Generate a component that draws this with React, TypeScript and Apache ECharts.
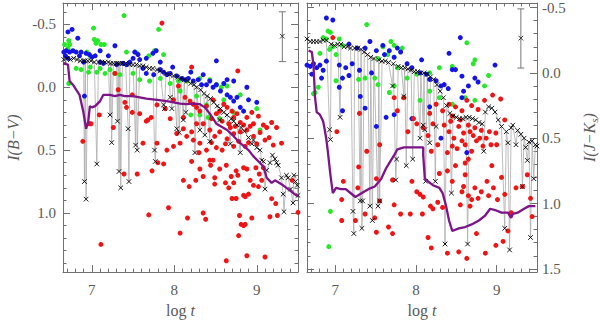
import React, { useEffect, useRef } from "react";
import * as echarts from "echarts";

const xTicks = [7, 8, 9];
const yTicks = [-0.5, 0.0, 0.5, 1.0, 1.5];

const leftBlue = [[6.71,-0.44],[6.76,-0.46],[6.83,-0.39],[6.66,-0.28],[6.69,-0.29],[6.73,-0.28],[6.77,-0.29],[6.81,-0.28],[6.87,-0.28],[6.93,-0.27],[6.97,-0.26],[6.68,-0.25],[6.71,-0.23],[6.85,-0.25],[6.91,0.07],[6.9,-0.2],[7.04,-0.25],[7.1,-0.2],[7.14,-0.19],[7.2,-0.25],[7.28,-0.33],[7.3,-0.18],[7.38,-0.19],[7.42,-0.18],[7.46,-0.2],[7.5,-0.23],[7.52,-0.28],[7.56,-0.26],[7.58,-0.22],[7.66,-0.23],[7.74,-0.27],[7.78,-0.29],[7.83,-0.2],[7.62,-0.15],[7.66,-0.11],[7.75,-0.1],[7.83,-0.14],[7.87,-0.12],[7.91,-0.1],[7.95,-0.11],[8.03,-0.09],[8.09,-0.07],[8.13,-0.06],[8.17,-0.07],[8.23,-0.05],[8.29,-0.06],[8.33,-0.02],[8.39,-0.02],[8.43,-0.05],[8.47,0.0],[8.51,-0.02],[8.56,0.03],[8.64,0.06],[8.68,0.08],[8.72,0.11],[8.76,0.08],[8.8,0.16],[8.84,0.19],[8.51,-0.21],[8.64,-0.06],[8.72,-0.05],[8.88,0.0],[9.0,0.12],[8.35,-0.1],[8.2,-0.12],[7.98,-0.16],[7.1,-0.29],[7.0,-0.24],[8.6,-0.03],[8.9,0.1]];

const leftGreen = [[7.39,-0.57],[7.02,-0.47],[7.81,-0.46],[6.72,-0.37],[6.73,-0.34],[6.67,-0.34],[6.71,-0.31],[7.03,-0.38],[7.07,-0.37],[7.11,-0.34],[7.15,-0.34],[7.05,-0.35],[7.42,-0.28],[7.53,-0.28],[7.55,-0.27],[7.69,-0.25],[7.76,-0.29],[7.87,-0.26],[6.94,-0.28],[6.98,-0.25],[6.72,-0.03],[6.81,-0.15],[6.87,-0.14],[6.96,-0.12],[7.1,-0.15],[7.16,-0.11],[7.22,-0.14],[7.28,-0.11],[7.34,-0.1],[6.98,-0.16],[7.06,-0.12],[7.5,-0.11],[7.58,-0.06],[7.7,-0.05],[7.83,-0.07],[7.95,-0.03],[8.05,-0.05],[8.15,-0.05],[8.31,-0.07],[8.43,-0.06],[8.51,-0.02],[8.57,0.0],[8.64,-0.01],[8.07,0.03],[8.27,0.07],[8.39,0.14],[8.2,0.22],[8.31,0.22],[8.41,0.24],[8.55,0.25],[8.72,0.2],[9.0,0.17],[9.04,0.34],[8.6,0.1],[8.8,0.06]];

const leftRed = [[7.85,-0.51],[8.21,-0.16],[8.77,-0.13],[7.28,-0.11],[7.32,0.02],[7.09,0.22],[6.97,0.29],[6.99,0.29],[6.89,0.43],[7.26,0.32],[7.4,0.12],[7.42,0.16],[7.49,0.06],[7.49,0.2],[7.58,0.21],[7.66,0.27],[7.68,0.26],[7.72,0.24],[7.79,0.14],[7.89,0.17],[7.95,0.25],[7.99,0.1],[8.05,-0.01],[8.11,0.24],[8.13,0.08],[8.19,0.11],[8.23,0.135],[8.27,0.16],[8.31,0.19],[8.39,0.15],[8.47,0.1],[8.51,0.21],[8.55,0.19],[8.6,0.135],[8.64,0.16],[8.7,0.19],[8.72,0.24],[8.76,0.21],[8.8,0.28],[8.88,0.24],[8.94,0.2],[8.96,0.29],[9.02,0.23],[9.08,0.3],[9.12,0.32],[9.18,0.28],[9.24,0.32],[8.35,0.29],[8.43,0.34],[8.49,0.39],[8.55,0.355],[8.64,0.41],[8.68,0.32],[8.72,0.37],[8.8,0.355],[8.88,0.34],[8.96,0.39],[9.0,0.45],[8.72,0.47],[8.51,0.48],[8.39,0.5],[8.31,0.445],[8.23,0.42],[8.15,0.39],[8.07,0.445],[7.99,0.47],[7.91,0.5],[7.79,0.445],[7.62,0.445],[8.03,0.368],[8.11,0.33],[8.21,0.355],[8.27,0.29],[9.3,0.445],[8.45,0.25],[8.58,0.27],[8.66,0.29],[8.74,0.31],[8.84,0.3],[8.92,0.31],[9.04,0.36],[9.1,0.42],[8.62,0.45],[8.78,0.43],[8.86,0.47],[8.58,0.5],[8.45,0.44],[8.3,0.52],[9.15,0.4],[9.2,0.46],[8.9,0.44],[7.11,1.25],[7.69,1.015],[7.93,0.958],[8.07,1.16],[8.16,1.04],[8.35,1.0],[8.38,1.05],[8.63,1.38],[8.88,1.34],[9.1,1.35],[8.78,1.18],[8.81,1.09],[8.84,1.1],[8.86,1.09],[8.79,1.02],[8.94,1.04],[9.16,1.03],[9.25,1.02],[9.23,0.925],[9.18,0.886],[9.5,0.995],[9.43,0.74],[7.39,0.69],[7.55,0.69],[7.73,0.665],[7.8,0.6],[7.87,0.61],[8.21,0.59],[8.43,0.58],[8.44,0.62],[8.11,0.74],[8.18,0.79],[8.26,0.74],[8.35,0.71],[8.49,0.72],[8.49,0.77],[8.62,0.76],[8.66,0.8],[8.69,0.71],[8.72,0.76],[8.75,0.665],[8.77,0.7],[8.84,0.64],[8.88,0.65],[8.84,0.86],[8.86,0.87],[8.9,0.85],[8.92,0.74],[8.96,0.78],[9.02,0.79],[9.06,0.74],[9.08,0.64],[8.99,0.64],[9.03,0.69],[8.7,0.885],[8.75,0.885],[8.47,0.58],[8.55,0.65],[8.63,0.62],[8.31,0.65]];

const leftBlack = [[6.66,-0.22],[6.7,-0.23],[6.74,-0.22],[6.78,-0.23],[6.82,-0.22],[6.86,-0.21],[6.9,-0.21],[6.91,0.75],[6.92,-0.21],[6.93,0.89],[6.95,-0.21],[6.99,-0.21],[7.03,-0.2],[7.06,0.61],[7.08,-0.2],[7.12,-0.2],[7.16,-0.2],[7.2,-0.2],[7.22,0.22],[7.23,-0.19],[7.24,0.44],[7.26,-0.19],[7.3,-0.19],[7.31,0.27],[7.32,-0.19],[7.33,0.67],[7.34,-0.19],[7.35,0.8],[7.37,-0.19],[7.41,-0.19],[7.44,0.33],[7.45,0.75],[7.46,-0.18],[7.5,-0.18],[7.53,0.46],[7.54,-0.18],[7.55,0.5],[7.58,-0.17],[7.62,-0.17],[7.66,-0.16],[7.7,-0.15],[7.74,-0.15],[7.76,0.5],[7.77,0.59],[7.79,-0.14],[7.83,-0.13],[7.87,0.14],[7.88,0.17],[7.9,-0.11],[7.94,-0.1],[7.95,0.08],[7.97,0.17],[7.99,-0.09],[8.03,0.33],[8.04,-0.08],[8.06,0.36],[8.08,-0.07],[8.11,0.26],[8.12,-0.06],[8.14,0.2],[8.16,-0.05],[8.2,-0.03],[8.24,-0.02],[8.25,0.52],[8.27,0.0],[8.31,0.34],[8.32,0.02],[8.36,0.05],[8.37,0.38],[8.4,0.07],[8.43,0.43],[8.44,0.09],[8.48,0.12],[8.52,0.15],[8.55,0.26],[8.56,0.17],[8.6,0.2],[8.64,0.22],[8.68,0.45],[8.69,0.25],[8.72,0.27],[8.76,0.3],[8.8,0.52],[8.81,0.32],[8.85,0.35],[8.9,0.4],[8.94,0.45],[8.96,0.42],[9.0,0.48],[9.04,0.5],[9.06,0.58],[9.08,0.59],[9.1,0.81],[9.12,0.66],[9.16,0.6],[9.19,0.54],[9.22,0.57],[9.24,0.6],[9.26,0.62],[9.3,0.72],[9.32,0.85],[9.33,0.99],[9.36,0.7],[9.38,0.72],[9.41,0.81],[9.44,0.92],[9.45,0.7],[9.47,0.75],[9.49,0.78],[9.5,0.86]];

const leftPurple = [[6.65,-0.19],[6.71,-0.18],[6.73,-0.05],[6.77,-0.02],[6.85,0.06],[6.895,0.19],[6.93,0.33],[6.955,0.28],[6.976,0.15],[7.0,0.16],[7.04,0.15],[7.1,0.11],[7.14,0.06],[7.22,0.06],[7.28,0.07],[7.34,0.06],[7.4,0.07],[7.5,0.07],[7.58,0.08],[7.66,0.09],[7.79,0.1],[7.91,0.11],[7.99,0.12],[8.07,0.13],[8.15,0.135],[8.23,0.13],[8.31,0.135],[8.37,0.16],[8.43,0.21],[8.51,0.29],[8.64,0.34],[8.72,0.39],[8.8,0.445],[8.9,0.5],[8.96,0.55],[9.08,0.63],[9.12,0.72],[9.18,0.76],[9.22,0.74],[9.32,0.78],[9.4,0.82],[9.5,0.87]];

const rightBlue = [[6.89,-0.42],[6.97,-0.405],[6.65,-0.06],[6.69,-0.05],[6.73,-0.07],[6.77,-0.04],[6.81,-0.06],[6.85,-0.02],[6.89,-0.09],[6.71,0.01],[6.83,0.04],[7.05,-0.06],[7.13,-0.04],[7.21,-0.07],[7.09,0.04],[7.17,0.02],[7.17,-0.22],[7.27,-0.19],[7.37,-0.19],[7.43,-0.24],[7.51,-0.17],[7.59,-0.21],[7.61,-0.14],[7.67,-0.17],[7.73,-0.12],[7.77,-0.19],[7.81,-0.16],[7.89,-0.07],[7.95,-0.04],[8.07,-0.1],[8.05,0.0],[8.13,0.01],[8.17,0.05],[8.25,0.06],[8.31,0.1],[8.35,0.09],[8.41,-0.15],[8.45,-0.025],[8.49,-0.025],[8.55,-0.27],[8.57,0.025],[8.65,0.1],[8.73,0.04],[8.77,0.07],[8.98,-0.06],[8.59,0.14],[8.57,0.19],[8.17,0.26],[7.95,0.35],[7.73,0.32],[7.63,0.34],[7.51,0.41],[7.37,0.27],[7.31,0.18],[7.09,0.29],[7.05,0.11],[8.31,0.5],[8.63,0.61],[7.45,0.0],[7.3,-0.02],[8.4,0.12]];

const rightGreen = [[7.39,-0.37],[6.91,-0.32],[6.94,-0.31],[6.85,-0.27],[6.89,-0.26],[6.93,-0.18],[6.97,-0.2],[6.81,-0.15],[7.05,-0.26],[7.09,-0.21],[7.01,-0.14],[7.59,-0.2],[7.69,-0.24],[7.73,-0.21],[7.65,-0.14],[7.53,-0.11],[7.83,-0.19],[7.77,-0.04],[7.89,0.04],[8.01,0.01],[8.17,0.0],[8.29,-0.04],[8.45,-0.05],[8.63,-0.23],[8.73,-0.1],[8.71,-0.07],[6.75,0.15],[6.79,0.11],[6.73,0.16],[7.01,0.06],[7.29,0.05],[7.37,0.04],[7.49,0.04],[7.53,0.09],[7.67,0.15],[7.73,0.1],[7.85,0.19],[8.05,0.21],[8.17,0.14],[8.29,0.19],[8.45,0.24],[8.61,0.19],[8.73,0.21],[8.85,0.1],[6.94,1.06],[6.92,1.33],[8.9,0.02]];

const rightRed = [[6.97,-0.27],[7.3,0.31],[7.02,0.45],[7.39,0.6],[7.73,0.19],[7.77,0.29],[7.85,0.19],[7.97,0.35],[8.01,0.39],[8.09,0.42],[8.15,0.48],[8.21,0.39],[8.17,0.31],[8.25,0.24],[8.33,0.29],[8.41,0.24],[8.45,0.33],[8.49,0.26],[8.57,0.29],[8.63,0.21],[8.69,0.25],[8.77,0.28],[8.85,0.21],[8.95,0.17],[9.05,0.2],[8.35,0.4],[8.41,0.45],[8.47,0.5],[8.53,0.41],[8.59,0.46],[8.65,0.4],[8.71,0.48],[8.75,0.52],[8.81,0.44],[8.87,0.5],[8.93,0.55],[8.61,0.55],[8.51,0.58],[8.27,0.55],[8.19,0.6],[8.39,0.61],[8.69,0.6],[8.99,0.46],[9.1,0.36],[7.55,0.55],[7.9,0.45],[8.43,0.37],[8.55,0.36],[8.67,0.45],[8.79,0.5],[8.83,0.56],[8.57,0.52],[8.45,0.56],[8.73,0.42],[8.91,0.45],[9.0,0.55],[7.08,0.97],[7.1,0.83],[7.28,0.88],[7.29,0.72],[7.08,1.13],[7.25,1.13],[7.37,1.08],[7.49,1.11],[7.51,1.22],[7.55,0.98],[7.51,0.81],[7.66,1.18],[7.71,1.23],[7.71,0.82],[7.73,1.01],[7.81,1.08],[7.93,1.08],[7.95,0.83],[8.01,0.91],[8.05,0.93],[8.09,0.95],[8.08,1.08],[8.15,1.26],[8.19,1.34],[8.18,1.02],[8.21,1.04],[8.27,0.99],[8.29,0.77],[8.33,1.03],[8.39,1.38],[8.39,0.75],[8.45,0.83],[8.49,0.71],[8.53,1.37],[8.55,1.01],[8.57,0.91],[8.59,0.87],[8.61,0.78],[8.63,1.42],[8.65,0.94],[8.67,1.02],[8.69,0.97],[8.73,0.88],[8.75,1.23],[8.77,0.96],[8.81,0.91],[8.86,1.38],[8.88,0.83],[8.9,0.94],[8.94,0.71],[8.96,0.88],[8.99,1.32],[9.01,0.97],[9.08,1.29],[9.06,0.8],[9.1,0.93],[9.14,1.21],[9.18,1.07],[9.24,0.88],[9.32,0.87],[9.38,0.78],[9.44,1.1],[9.42,0.96],[8.61,0.69],[8.65,0.66]];

const rightBlack = [[6.65,-0.26],[6.69,-0.24],[6.73,-0.24],[6.77,-0.24],[6.81,-0.24],[6.85,-0.25],[6.89,-0.25],[6.93,0.435],[6.94,0.51],[6.95,-0.22],[6.99,-0.21],[7.03,-0.22],[7.06,0.34],[7.07,-0.22],[7.11,-0.2],[7.15,-0.2],[7.19,-0.19],[7.22,1.06],[7.23,1.23],[7.24,-0.19],[7.28,-0.19],[7.31,0.98],[7.32,-0.18],[7.33,1.19],[7.34,0.98],[7.36,-0.16],[7.4,-0.14],[7.43,1.02],[7.44,-0.12],[7.46,1.13],[7.48,-0.11],[7.53,1.02],[7.54,-0.1],[7.55,0.98],[7.58,-0.09],[7.62,-0.09],[7.66,-0.08],[7.71,0.1],[7.72,-0.07],[7.75,0.82],[7.76,0.66],[7.78,-0.05],[7.82,-0.04],[7.85,0.18],[7.86,-0.04],[7.88,0.71],[7.9,-0.03],[7.94,-0.02],[7.96,0.66],[7.98,-0.01],[8.02,-0.01],[8.05,0.5],[8.06,0.0],[8.09,0.4],[8.1,0.0],[8.11,0.435],[8.12,0.83],[8.14,0.01],[8.17,0.535],[8.18,0.03],[8.22,0.05],[8.24,0.83],[8.25,0.41],[8.26,0.09],[8.3,0.14],[8.34,0.19],[8.36,1.31],[8.38,0.25],[8.42,0.31],[8.44,0.92],[8.46,0.33],[8.5,0.34],[8.54,0.35],[8.58,0.35],[8.62,0.34],[8.64,1.31],[8.66,0.34],[8.7,0.35],[8.74,0.36],[8.78,0.38],[8.82,0.39],[8.84,0.6],[8.86,0.3],[8.9,0.26],[8.94,0.27],[8.98,0.3],[9.02,0.36],[9.06,0.41],[9.1,1.19],[9.12,0.45],[9.14,0.535],[9.16,1.355],[9.18,0.42],[9.2,0.4],[9.24,0.55],[9.26,0.44],[9.3,0.47],[9.32,0.87],[9.34,0.5],[9.36,0.57],[9.38,0.67],[9.4,0.53],[9.42,1.26],[9.44,0.52],[9.46,0.81],[9.48,0.55],[9.5,0.56]];

const rightPurple = [[6.67,-0.17],[6.71,-0.16],[6.73,-0.06],[6.75,0.19],[6.77,0.3],[6.81,0.32],[6.85,0.37],[6.87,0.435],[6.89,0.51],[6.91,0.61],[6.94,0.78],[6.97,0.92],[7.01,0.88],[7.07,0.89],[7.13,0.89],[7.17,0.91],[7.25,0.95],[7.33,0.92],[7.41,0.89],[7.49,0.87],[7.57,0.81],[7.63,0.73],[7.69,0.67],[7.73,0.63],[7.77,0.585],[7.85,0.57],[7.97,0.57],[8.09,0.57],[8.09,0.63],[8.11,0.81],[8.15,0.83],[8.21,0.86],[8.29,0.88],[8.33,0.92],[8.37,1.01],[8.41,1.13],[8.45,1.21],[8.53,1.19],[8.61,1.18],[8.69,1.16],[8.78,1.13],[8.86,1.09],[8.92,1.04],[8.98,1.05],[9.06,1.07],[9.14,1.07],[9.18,1.11],[9.2,1.08],[9.26,1.07],[9.34,1.04],[9.4,1.02],[9.44,1.02],[9.48,1.02]];

// [x, low, high, centre]
const leftError = [[9.31, -0.6, -0.204, -0.406]];
const rightError = [[9.3, -0.49, -0.037, -0.266]];

const xRange = [6.65, 9.5];
const leftYRange = [-0.67, 1.47];
const rightYRange = [-0.535, 1.525];

const FONT = "Liberation Serif";
const AXIS_COLOR = "#707070";
const LABEL_COLOR = "#5a5a5a";

function near(v: number, ticks: number[]) {
  return ticks.find((t) => Math.abs(t - v) < 1e-6);
}

function xAxisDef(gridIndex: number, top: boolean) {
  return {
    type: "value",
    gridIndex,
    position: top ? "top" : "bottom",
    min: xRange[0],
    max: xRange[1],
    splitNumber: 3,
    axisLine: { show: true, onZero: false, lineStyle: { color: AXIS_COLOR, width: 1 } },
    axisTick: { show: true, inside: true, length: 7, lineStyle: { color: AXIS_COLOR } },
    minorTick: { show: true, splitNumber: 10, length: 3.5, lineStyle: { color: AXIS_COLOR } },
    splitLine: { show: false },
    axisLabel: top
      ? { show: false }
      : {
          show: true,
          margin: 10,
          showMinLabel: false,
          showMaxLabel: false,
          fontFamily: FONT,
          fontSize: 15,
          color: LABEL_COLOR,
          formatter: (v: number) => {
            const t = near(v, xTicks);
            return t === undefined ? "" : String(t);
          },
        },
    name: top ? "" : "{a|log }{b|t}",
    nameLocation: "middle",
    nameGap: 25,
    nameTextStyle: {
      rich: {
        a: { fontFamily: FONT, fontSize: 16, color: LABEL_COLOR },
        b: { fontFamily: FONT, fontSize: 16, fontStyle: "italic", color: LABEL_COLOR },
      },
    },
  };
}

function yAxisDef(gridIndex: number, range: number[], position: string, labels: boolean, name: string, rich: any) {
  return {
    type: "value",
    gridIndex,
    position,
    inverse: true,
    min: range[0],
    max: range[1],
    splitNumber: 5,
    axisLine: { show: true, onZero: false, lineStyle: { color: AXIS_COLOR, width: 1 } },
    axisTick: { show: true, inside: true, length: 7, lineStyle: { color: AXIS_COLOR } },
    minorTick: { show: true, splitNumber: 5, length: 3.5, lineStyle: { color: AXIS_COLOR } },
    splitLine: { show: false },
    axisLabel: labels
      ? {
          show: true,
          margin: position === "left" ? 7 : 5,
          showMinLabel: false,
          showMaxLabel: false,
          fontFamily: FONT,
          fontSize: 15,
          color: LABEL_COLOR,
          formatter: (v: number) => {
            const t = near(v, yTicks);
            return t === undefined ? "" : t.toFixed(1);
          },
        }
      : { show: false },
    name: labels ? name : "",
    nameLocation: "middle",
    nameRotate: 90,
    nameGap: 42,
    nameTextStyle: { rich },
  };
}

function dots(data: number[][], color: string, axis: number) {
  return {
    type: "scatter",
    xAxisIndex: axis,
    yAxisIndex: axis,
    data,
    symbol: "circle",
    symbolSize: 5,
    itemStyle: { color, opacity: 1 },
    z: 3,
  };
}

function greyLine(data: number[][], axis: number) {
  return {
    type: "line",
    xAxisIndex: axis,
    yAxisIndex: axis,
    data,
    showSymbol: false,
    symbol: "none",
    lineStyle: { color: "#ababab", width: 0.8 },
    z: 2,
  };
}

function crosses(data: number[][], axis: number) {
  return {
    type: "custom",
    xAxisIndex: axis,
    yAxisIndex: axis,
    data,
    encode: { x: 0, y: 1 },
    z: 4,
    renderItem: (params: any, api: any) => {
      const p = api.coord([api.value(0), api.value(1)]);
      const s = 2.3;
      const st = { stroke: "#000", lineWidth: 0.9 };
      return {
        type: "group",
        children: [
          { type: "line", shape: { x1: p[0] - s, y1: p[1] - s, x2: p[0] + s, y2: p[1] + s }, style: st },
          { type: "line", shape: { x1: p[0] - s, y1: p[1] + s, x2: p[0] + s, y2: p[1] - s }, style: st },
        ],
      };
    },
  };
}

function purple(data: number[][], axis: number) {
  return {
    type: "line",
    xAxisIndex: axis,
    yAxisIndex: axis,
    data,
    showSymbol: false,
    symbol: "none",
    lineStyle: { color: "#7d1487", width: 2.3 },
    z: 5,
  };
}

function errorBar(data: number[][], axis: number) {
  return {
    type: "custom",
    xAxisIndex: axis,
    yAxisIndex: axis,
    data,
    encode: { x: 0, y: [1, 2] },
    z: 6,
    renderItem: (params: any, api: any) => {
      const lo = api.coord([api.value(0), api.value(1)]);
      const hi = api.coord([api.value(0), api.value(2)]);
      const c = api.coord([api.value(0), api.value(3)]);
      const w = 3.5;
      const s = 2.3;
      const st = { stroke: "#777", lineWidth: 1 };
      const sk = { stroke: "#222", lineWidth: 0.9 };
      return {
        type: "group",
        children: [
          { type: "line", shape: { x1: lo[0], y1: lo[1], x2: hi[0], y2: hi[1] }, style: st },
          { type: "line", shape: { x1: lo[0] - w, y1: lo[1], x2: lo[0] + w, y2: lo[1] }, style: st },
          { type: "line", shape: { x1: hi[0] - w, y1: hi[1], x2: hi[0] + w, y2: hi[1] }, style: st },
          { type: "line", shape: { x1: c[0] - s, y1: c[1] - s, x2: c[0] + s, y2: c[1] + s }, style: sk },
          { type: "line", shape: { x1: c[0] - s, y1: c[1] + s, x2: c[0] + s, y2: c[1] - s }, style: sk },
        ],
      };
    },
  };
}

export default function App() {
  const ref = useRef<HTMLDivElement>(null);
  useEffect(() => {
    if (!ref.current) return;
    const chart = echarts.init(ref.current, null, { renderer: "svg" });
    const leftRich = {
      a: { fontFamily: FONT, fontSize: 16, fontStyle: "italic", color: LABEL_COLOR },
    };
    const rightRich = {
      a: { fontFamily: FONT, fontSize: 16, fontStyle: "italic", color: LABEL_COLOR, lineHeight: 20 },
      s: { fontFamily: FONT, fontSize: 11, fontStyle: "italic", color: LABEL_COLOR, verticalAlign: "bottom", lineHeight: 20 },
    };
    chart.setOption({
      animation: false,
      backgroundColor: "#fff",
      textStyle: { fontFamily: FONT },
      grid: [
        { left: 63, top: 3, width: 235, height: 276 },
        { left: 307, top: 3, width: 236, height: 276 },
      ],
      xAxis: [xAxisDef(0, false), xAxisDef(0, true), xAxisDef(1, false), xAxisDef(1, true)],
      yAxis: [
        yAxisDef(0, leftYRange, "left", true, "{a|I(B−V)}", leftRich),
        yAxisDef(0, leftYRange, "right", false, "", leftRich),
        yAxisDef(1, rightYRange, "right", true, "{a|I(J−K}{s|s}{a|)}", rightRich),
        yAxisDef(1, rightYRange, "left", false, "", rightRich),
      ],
      series: [
        greyLine(leftBlack, 0),
        dots(leftGreen, "#28e828", 0),
        dots(leftBlue, "#1414e6", 0),
        dots(leftRed, "#f01414", 0),
        crosses(leftBlack, 0),
        purple(leftPurple, 0),
        errorBar(leftError, 0),
        greyLine(rightBlack, 2),
        dots(rightGreen, "#28e828", 2),
        dots(rightBlue, "#1414e6", 2),
        dots(rightRed, "#f01414", 2),
        crosses(rightBlack, 2),
        purple(rightPurple, 2),
        errorBar(rightError, 2),
      ],
    });
    return () => chart.dispose();
  }, []);
  return (
    <div
      ref={ref}
      style={{ position: "fixed", left: 0, top: 0, width: 600, height: 323, background: "#fff" }}
    />
  );
}
